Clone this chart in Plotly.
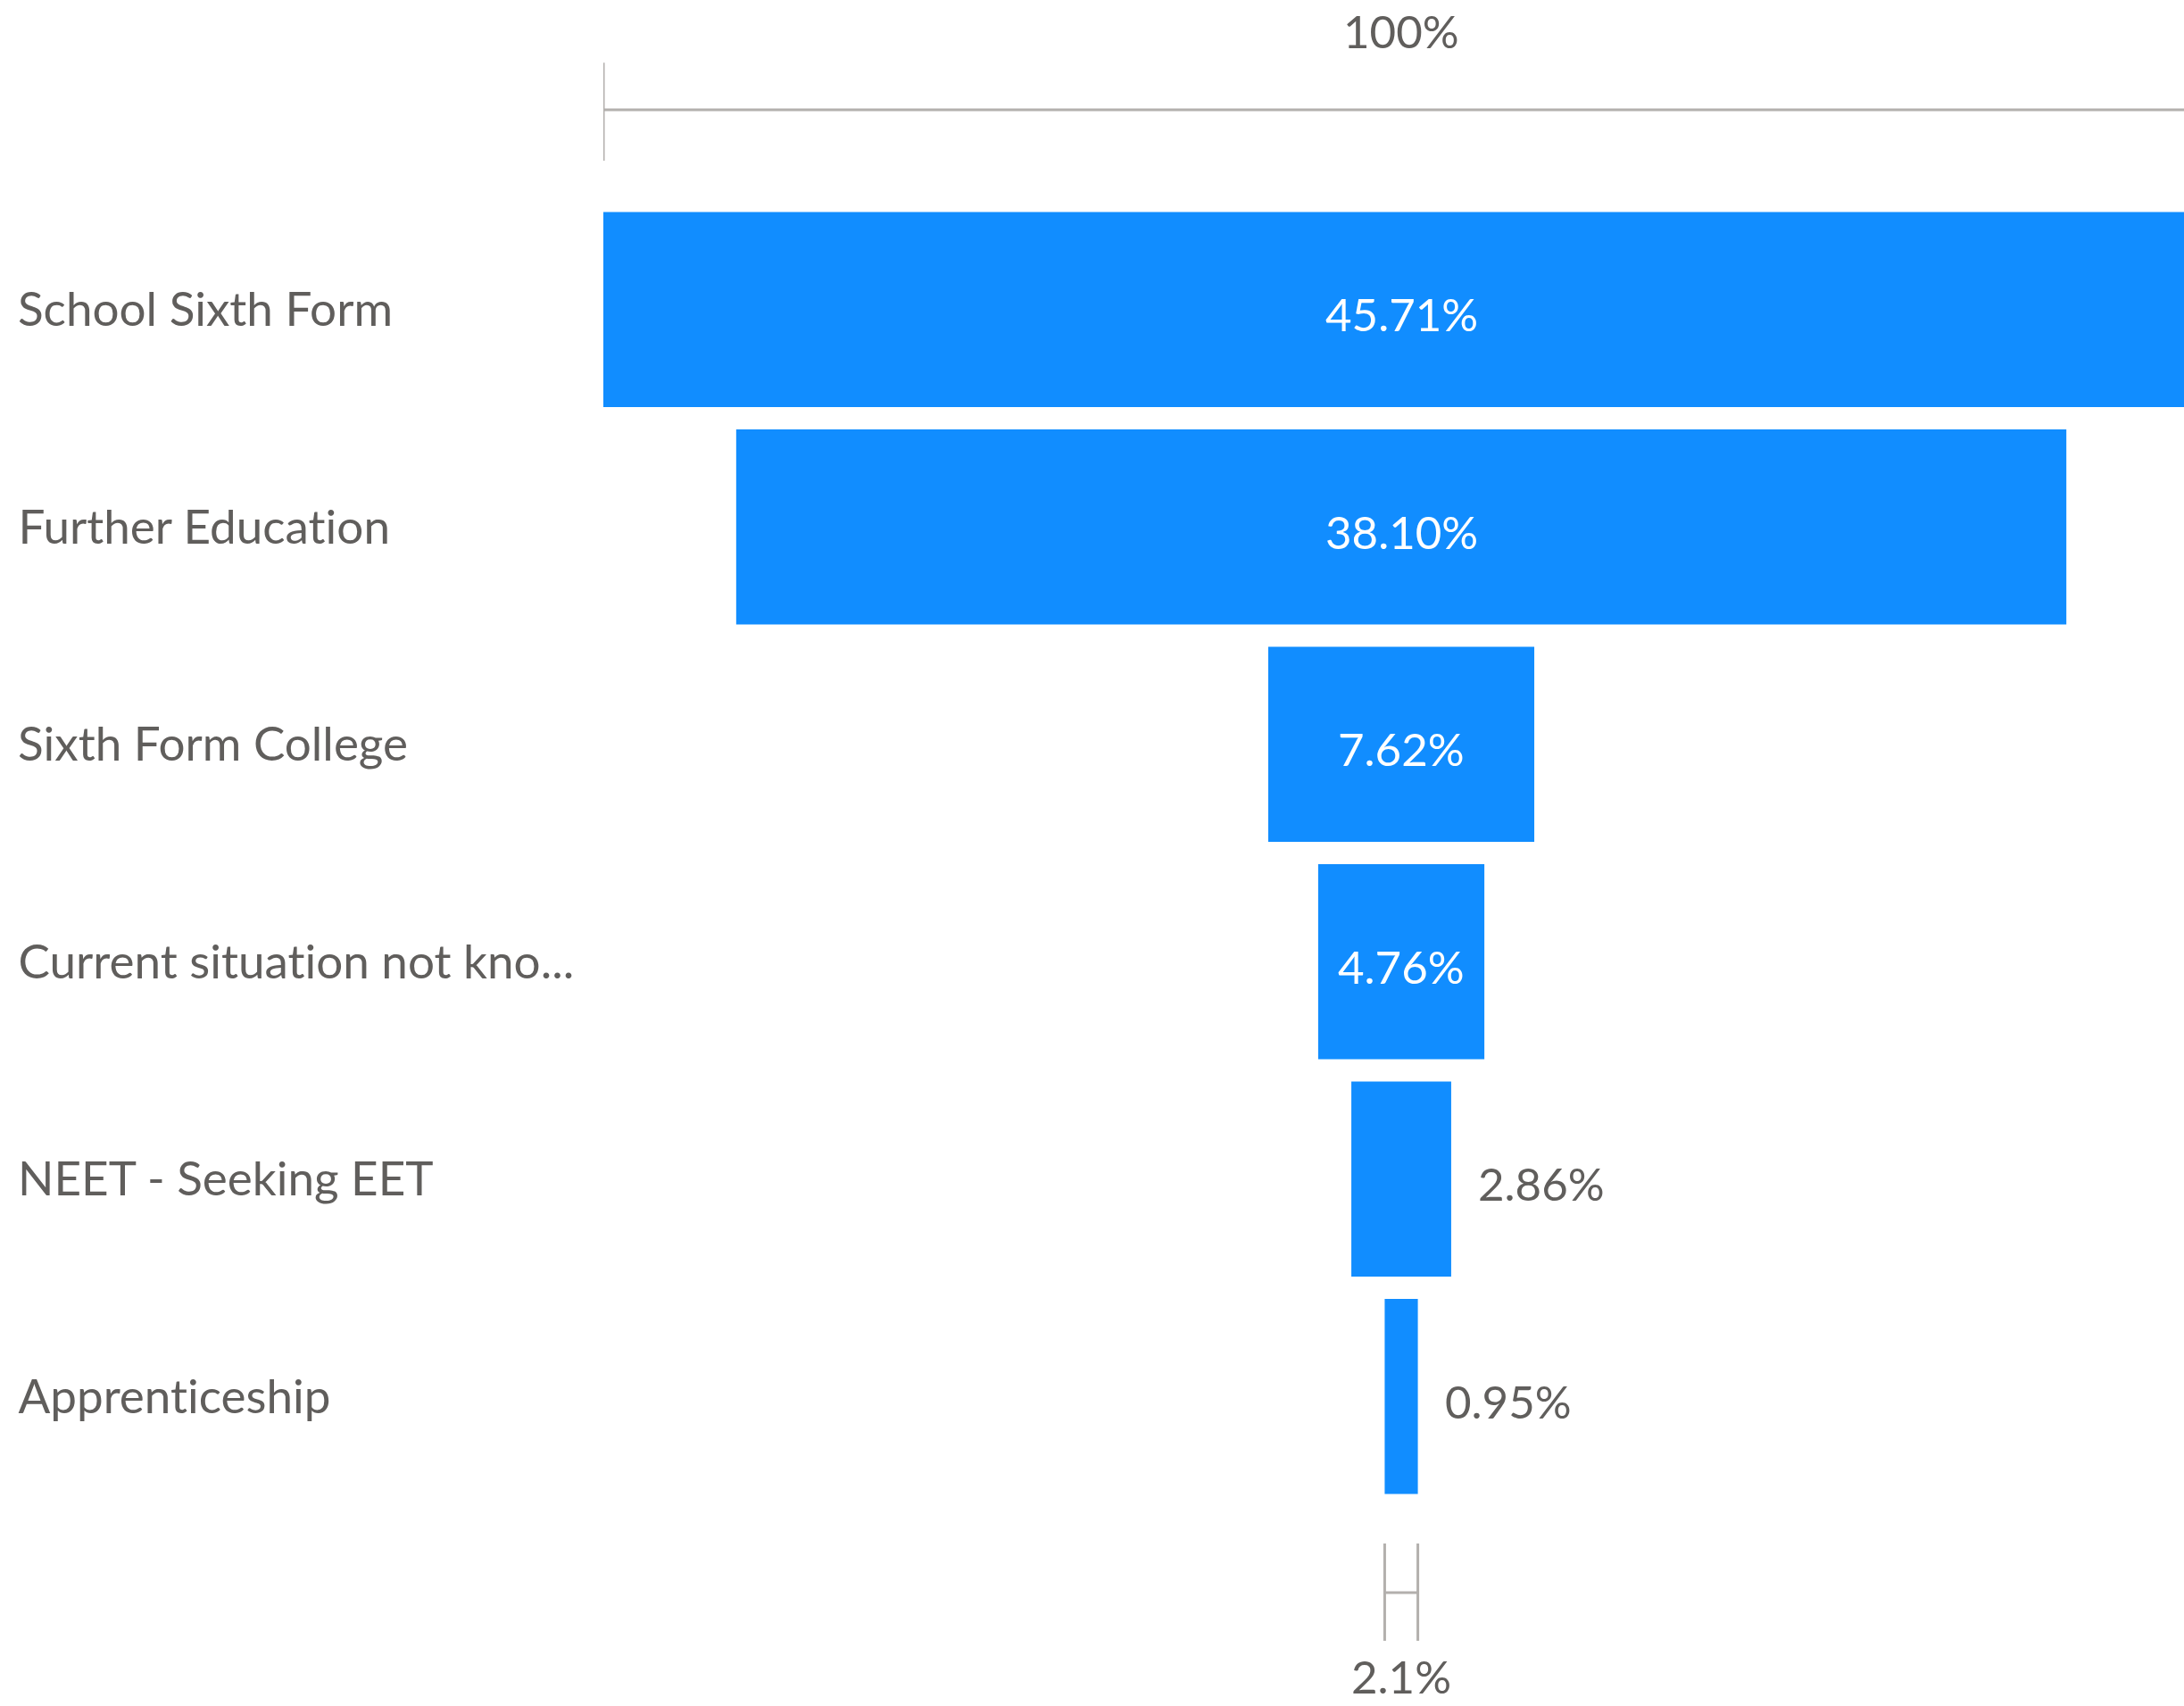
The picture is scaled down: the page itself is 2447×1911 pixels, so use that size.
import plotly.graph_objects as go

categories = ["School Sixth Form", "Further Education", "Sixth Form College",
              "Current situation not kno...", "NEET - Seeking EET", "Apprenticeship"]
values = [45.71, 38.10, 7.62, 4.76, 2.86, 0.95]

BAR = "#118DFF"
TXT = "#605E5C"
GRID = "#B3B0AD"
FONT = "Segoe UI, Lato, sans-serif"
FS = 53
VFS = 51

vmax = max(values)
base = [-v / 2 for v in values]
x_right = 22.42  # visible right end of the value axis (top bar is clipped)

fig = go.Figure(go.Bar(
    y=categories, x=values, base=base, orientation="h",
    marker=dict(color=BAR, line=dict(width=0)),
    hoverinfo="skip",
))

ann = []
for c, v in zip(categories, values):
    ann.append(dict(x=-0.3716, xref="paper", y=c, yref="y", text=c, showarrow=False,
                    xanchor="left", yanchor="middle", yshift=2,
                    font=dict(family=FONT, size=FS, color=TXT)))
    if v >= 4:
        ann.append(dict(x=0, xref="x", y=c, yref="y", text=f"{v:.2f}%", showarrow=False,
                        xanchor="center", yanchor="middle", yshift=-5,
                        font=dict(family=FONT, size=VFS, color="white")))
    else:
        ann.append(dict(x=v / 2, xref="x", y=c, yref="y", text=f"{v:.2f}%", showarrow=False,
                        xanchor="left", yanchor="middle", xshift=28, yshift=-5,
                        font=dict(family=FONT, size=VFS, color=TXT)))

ann.append(dict(x=0, xref="x", y=1.1306, yref="paper", text="100%", showarrow=False,
                xanchor="center", yanchor="middle", font=dict(family=FONT, size=VFS, color=TXT)))
ratio = values[-1] / values[0] * 100
ann.append(dict(x=0, xref="x", y=-0.131, yref="paper", text=f"{ratio:.1f}%", showarrow=False,
                xanchor="center", yanchor="middle", font=dict(family=FONT, size=VFS, color=TXT)))

ln = dict(color=GRID, width=3)
shapes = [
    dict(type="line", xref="x", yref="paper", x0=-vmax / 2, x1=vmax / 2, y0=1.0698, y1=1.0698, line=ln),
    dict(type="line", xref="x", yref="paper", x0=-vmax / 2, x1=-vmax / 2, y0=1.0308, y1=1.106, line=ln),
    dict(type="line", xref="x", yref="paper", x0=vmax / 2, x1=vmax / 2, y0=1.0308, y1=1.106, line=ln),
    dict(type="line", xref="x", yref="paper", x0=-values[-1] / 2, x1=-values[-1] / 2, y0=-0.104, y1=-0.0294, line=ln),
    dict(type="line", xref="x", yref="paper", x0=values[-1] / 2, x1=values[-1] / 2, y0=-0.104, y1=-0.0294, line=ln),
    dict(type="line", xref="x", yref="paper", x0=-values[-1] / 2, x1=values[-1] / 2, y0=-0.0671, y1=-0.0671, line=ln),
]

fig.update_layout(
    width=2447, height=1911,
    margin=dict(l=676, r=0, t=225, b=225),
    paper_bgcolor="white", plot_bgcolor="white",
    bargap=0.103, showlegend=False,
    xaxis=dict(range=[-vmax / 2, x_right], visible=False, fixedrange=True),
    yaxis=dict(autorange="reversed", showticklabels=False, showgrid=False,
               zeroline=False, showline=False, ticks="", fixedrange=True),
    annotations=ann, shapes=shapes,
)

fig.write_html(
    "out.html", config={"displayModeBar": False},
    post_script=(
        "document.body.style.margin='0';document.body.style.overflow='hidden';"
        "var s=document.createElement('style');"
        "s.textContent='text{font-variant-ligatures:none;font-feature-settings:\"liga\" 0;}';"
        "document.head.appendChild(s);"
    ),
)
